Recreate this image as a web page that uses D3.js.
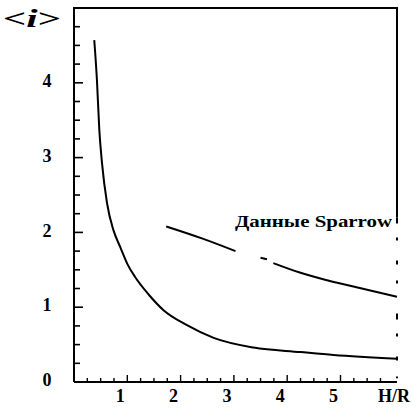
<!DOCTYPE html>
<html>
<head>
<meta charset="utf-8">
<script src="https://cdn.jsdelivr.net/npm/d3@7"></script>
<style>
  body { margin: 0; background: #fff; }
  svg { display: block; }
  text { font-family: 'Liberation Serif', 'Times New Roman', serif; font-weight: bold; fill: #000; }
</style>
</head>
<body>
<svg width="411" height="410"></svg>
<script>
// theory curve <i>(H/R)
const theoryX = [0.38, 0.43, 0.475, 0.525, 0.62, 0.74, 0.87, 1.0, 1.15, 1.4, 1.68, 2.12, 2.62, 3.37, 4.25, 4.87, 6.06];
const theoryY = [4.57, 4.04, 3.37, 2.93, 2.39, 2.03, 1.80, 1.58, 1.40, 1.17, 0.96, 0.76, 0.59, 0.46, 0.40, 0.36, 0.31];

// Sparrow data (null = gap in the printed line)
const sparrowX = [1.73, 2.4, 3.03, 3.3, 3.5, 3.62, 3.68, 3.74, 4.25, 4.75, 5.4, 6.06];
const sparrowY = [2.08, 1.92, 1.75, null, 1.66, 1.64, null, 1.59, 1.46, 1.36, 1.25, 1.14];

const xTickLabels = ['1', '2', '3', '4', '5'];
const yTickLabels = ['0', '1', '2', '3', '4'];

const svg = d3.select('svg');
const x = d3.scaleLinear().domain([0, 6.06]).range([74, 397]);
const y = d3.scaleLinear().domain([0, 5]).range([382, 8]);

// frame
svg.append('path')
  .attr('d', `M${x(0)},${y(0)} V${y(5)} H${x(6.06)} V${y(2.2)}`)
  .attr('fill', 'none').attr('stroke', '#000').attr('stroke-width', 2);
svg.append('line')
  .attr('x1', x(6.06)).attr('x2', x(6.06))
  .attr('y1', y(2.2)).attr('y2', y(0.05))
  .attr('stroke', '#000').attr('stroke-width', 2)
  .attr('stroke-dasharray', '6 14 3 20 4 16 3 30');
svg.append('line')
  .attr('x1', x(0)).attr('x2', x(6.06))
  .attr('y1', y(0)).attr('y2', y(0))
  .attr('stroke', '#000').attr('stroke-width', 2);

// minor/major ticks on y (inside, pointing right)
const yTicks = d3.range(1, 20).map(d => d / 4);
svg.append('g').selectAll('line')
  .data(yTicks).join('line')
  .attr('x1', x(0)).attr('x2', d => x(0) + (d % 1 === 0 ? 9 : 6))
  .attr('y1', d => y(d)).attr('y2', d => y(d))
  .attr('stroke', '#000').attr('stroke-width', 1.6);

// ticks on x (pointing up)
const xTicks = d3.range(1, 24).map(d => d / 4);
svg.append('g').selectAll('line')
  .data(xTicks).join('line')
  .attr('x1', d => x(d)).attr('x2', d => x(d))
  .attr('y1', y(0)).attr('y2', d => y(0) - (d % 1 === 0 ? 7 : 4))
  .attr('stroke', '#000').attr('stroke-width', 1.4);

// tick labels
svg.append('g').selectAll('text')
  .data(xTickLabels).join('text')
  .attr('x', d => x(+d) - 7).attr('y', 398)
  .attr('text-anchor', 'middle').attr('dominant-baseline', 'middle')
  .attr('font-size', 18)
  .text(d => d);
svg.append('text')
  .attr('x', 410).attr('y', 398)
  .attr('text-anchor', 'end').attr('dominant-baseline', 'middle')
  .attr('font-size', 18)
  .text('H/R');

svg.append('g').selectAll('text')
  .data(yTickLabels).join('text')
  .attr('x', 47).attr('y', d => y(+d))
  .attr('text-anchor', 'middle').attr('dominant-baseline', 'middle')
  .attr('font-size', 18)
  .text(d => d);

// axis title <i>
const title = svg.append('text')
  .attr('x', 3).attr('y', 21)
  .attr('dominant-baseline', 'middle')
  .attr('font-size', 26)
  .attr('textLength', 58).attr('lengthAdjust', 'spacingAndGlyphs');
title.append('tspan').text('<');
title.append('tspan').attr('font-style', 'italic').text('i');
title.append('tspan').text('>');

// curves
const line = d3.line()
  .defined(d => d[1] !== null)
  .x(d => x(d[0]))
  .y(d => y(d[1]))
  .curve(d3.curveMonotoneX);

svg.append('path')
  .datum(theoryX.map((v, i) => [v, theoryY[i]]))
  .attr('fill', 'none').attr('stroke', '#000').attr('stroke-width', 2)
  .attr('d', line);

svg.append('path')
  .datum(sparrowX.map((v, i) => [v, sparrowY[i]]))
  .attr('fill', 'none').attr('stroke', '#000').attr('stroke-width', 2)
  .attr('d', line);

// series label
svg.append('text')
  .attr('x', 235).attr('y', 223)
  .attr('dominant-baseline', 'middle')
  .attr('font-size', 17)
  .attr('textLength', 157).attr('lengthAdjust', 'spacingAndGlyphs')
  .text('Данные Sparrow');
</script>
</body>
</html>
